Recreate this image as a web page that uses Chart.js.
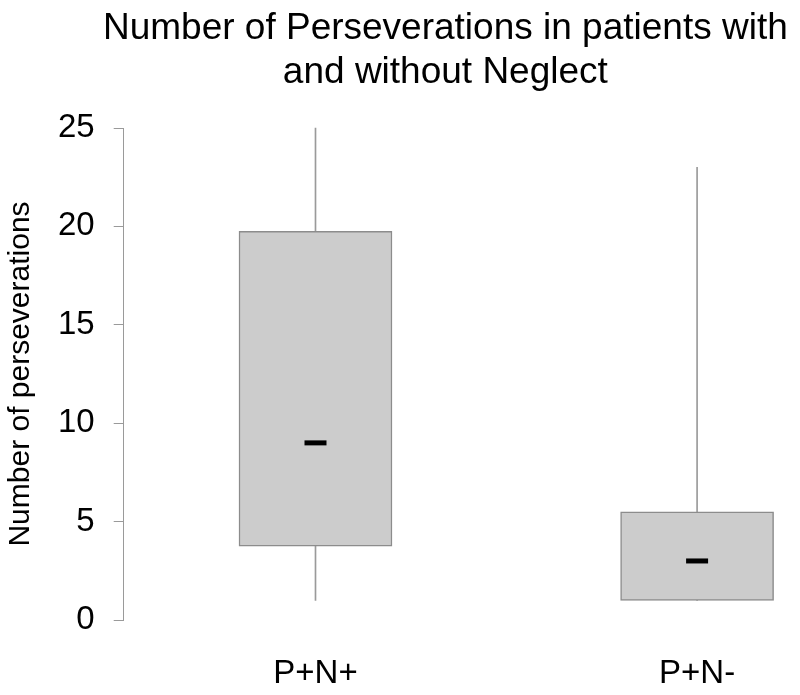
<!DOCTYPE html>
<html>
<head>
<meta charset="utf-8">
<script src="https://cdn.jsdelivr.net/npm/chart.js@4/dist/chart.umd.min.js"></script>
<style>
  html, body { margin: 0; padding: 0; background: #fff; }
  #wrap { width: 800px; height: 695px; }
</style>
</head>
<body>
<div id="wrap"><canvas id="chart" width="800" height="695"></canvas></div>
<script>
// data
const categories = ['P+N+', 'P+N-'];
const whiskerMin = [1, 1];
const whiskerMax = [25, 23];
const quartile1 = [3.75, 1];
const quartile3 = [19.75, 5.5];
const medians = [9, 3];
const yTicks = [0, 5, 10, 15, 20, 25];
const titleLines = ['Number of Perseverations in patients with', 'and without Neglect'];

const FONT = "'Liberation Sans', Arial, sans-serif";
const xs = categories.map((c, i) => i + 1);

// title centred over the plot area, without the width squeeze of the built-in title
const plotTitle = {
    id: 'plotTitle',
    afterDraw: function (chart) {
        const c = chart.ctx;
        const area = chart.chartArea;
        const cx = (area.left + area.right) / 2;
        c.save();
        c.fillStyle = '#000';
        c.font = '37px ' + FONT;
        c.textAlign = 'center';
        c.textBaseline = 'alphabetic';
        titleLines.forEach((line, i) => {
            c.fillText(line, cx, 39 + i * 44);
        });
        c.restore();
    }
};

const ctx = document.getElementById('chart');

new Chart(ctx, {
    type: 'bar',
    data: {
        datasets: [
            {
                label: 'whisker',
                data: xs.map((x, i) => ({ x: x, y: [whiskerMin[i], whiskerMax[i]] })),
                backgroundColor: '#9a9a9a',
                borderWidth: 0,
                barThickness: 1,
                grouped: false,
                clip: false,
                order: 3
            },
            {
                label: 'box',
                data: xs.map((x, i) => ({ x: x, y: [quartile1[i], quartile3[i]] })),
                backgroundColor: '#cccccc',
                borderColor: '#8c8c8c',
                borderWidth: 1.5,
                borderSkipped: false,
                barThickness: 153,
                grouped: false,
                clip: false,
                order: 2
            },
            {
                type: 'scatter',
                label: 'median',
                data: xs.map((x, i) => ({ x: x, y: medians[i] })),
                pointStyle: 'line',
                pointRadius: 11,
                borderWidth: 5,
                borderColor: '#000',
                backgroundColor: '#000',
                clip: false,
                order: 1
            }
        ]
    },
    options: {
        responsive: false,
        animation: false,
        layout: { padding: { left: 0, right: 33, bottom: 0, top: 128 } },
        plugins: {
            legend: { display: false },
            tooltip: { enabled: false },
            title: { display: false }
        },
        scales: {
            x: {
                type: 'linear',
                offset: false,
                min: 0.4974,
                max: 2.1832,
                afterBuildTicks: function (axis) {
                    axis.ticks = xs.map(v => ({ value: v }));
                },
                afterFit: function (axis) {
                    axis.height = 75;
                },
                ticks: {
                    color: '#000',
                    padding: 26,
                    font: { family: FONT, size: 33 },
                    callback: function (value) {
                        return categories[value - 1];
                    }
                },
                grid: { display: false },
                border: { display: false }
            },
            y: {
                min: 0,
                max: 25,
                afterBuildTicks: function (axis) {
                    axis.ticks = yTicks.map(v => ({ value: v }));
                },
                ticks: {
                    color: '#000',
                    padding: 19,
                    font: { family: FONT, size: 33 }
                },
                grid: {
                    drawOnChartArea: false,
                    drawTicks: true,
                    tickLength: 10,
                    color: '#9a9a9a'
                },
                border: { display: true, color: '#9a9a9a' },
                title: {
                    display: true,
                    text: 'Number of perseverations',
                    color: '#000',
                    font: { family: FONT, size: 30 },
                    padding: { top: 3, bottom: 0 }
                }
            }
        }
    },
    plugins: [plotTitle]
});
</script>
</body>
</html>
